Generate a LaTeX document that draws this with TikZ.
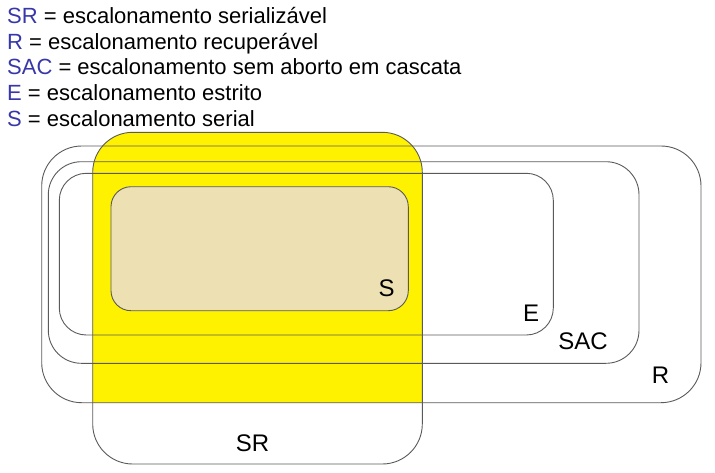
\documentclass[tikz,border=0pt]{standalone}
\usepackage{fontspec}
\setmainfont{Liberation Sans}
\definecolor{legblue}{RGB}{55,55,170}
\definecolor{srfill}{RGB}{255,242,0}
\definecolor{sfill}{RGB}{237,224,178}
\definecolor{edge}{RGB}{90,90,90}
\begin{document}
\begin{tikzpicture}[x=1pt,y=-1pt,
  setline/.style={draw=edge,line width=0.9pt},
  legend/.style={anchor=base west,inner sep=0pt,font=\fontsize{22}{26}\selectfont},
  setlabel/.style={anchor=base,inner sep=0pt,font=\fontsize{24}{28}\selectfont}]
\useasboundingbox (0,0) rectangle (715,472);
% yellow fill of SR, above the bottom of R
\begin{scope}
  \clip (0,0) rectangle (715,402.7);
  \fill[srfill,rounded corners=40pt] (92.7,132.3) rectangle (422.3,464);
\end{scope}
% S filled
\fill[sfill,rounded corners=20pt] (111,186.7) rectangle (408.3,310.7);
% outlines
\draw[setline,rounded corners=40pt] (41.7,146) rectangle (701,402.7);
\draw[setline,rounded corners=33pt] (48.3,161.7) rectangle (639,363.3);
\draw[setline,rounded corners=27pt] (59.3,173.3) rectangle (553.3,335);
\draw[setline,rounded corners=20pt] (111,186.7) rectangle (408.3,310.7);
\draw[setline,rounded corners=40pt] (92.7,132.3) rectangle (422.3,464);
% labels
\node[setlabel] (lS) at (386.5,296.7) {S};
\node[setlabel] (lE) at (531,321.7) {E};
\node[setlabel] (lSAC) at (583,349.3) {SAC};
\node[setlabel] (lR) at (660.5,383.3) {R};
\node[setlabel] (lSR) at (252.5,451.7) {SR};
% legend
\node[legend] (g1) at (7,23.3) {\textcolor{legblue}{SR} = escalonamento serializável};
\node[legend] (g2) at (7,49) {\textcolor{legblue}{R} = escalonamento recuperável};
\node[legend] (g3) at (7,74.7) {\textcolor{legblue}{SAC} = escalonamento sem aborto em cascata};
\node[legend] (g4) at (7,100.3) {\textcolor{legblue}{E} = escalonamento estrito};
\node[legend] (g5) at (7,126) {\textcolor{legblue}{S} = escalonamento serial};
\end{tikzpicture}
\end{document}
